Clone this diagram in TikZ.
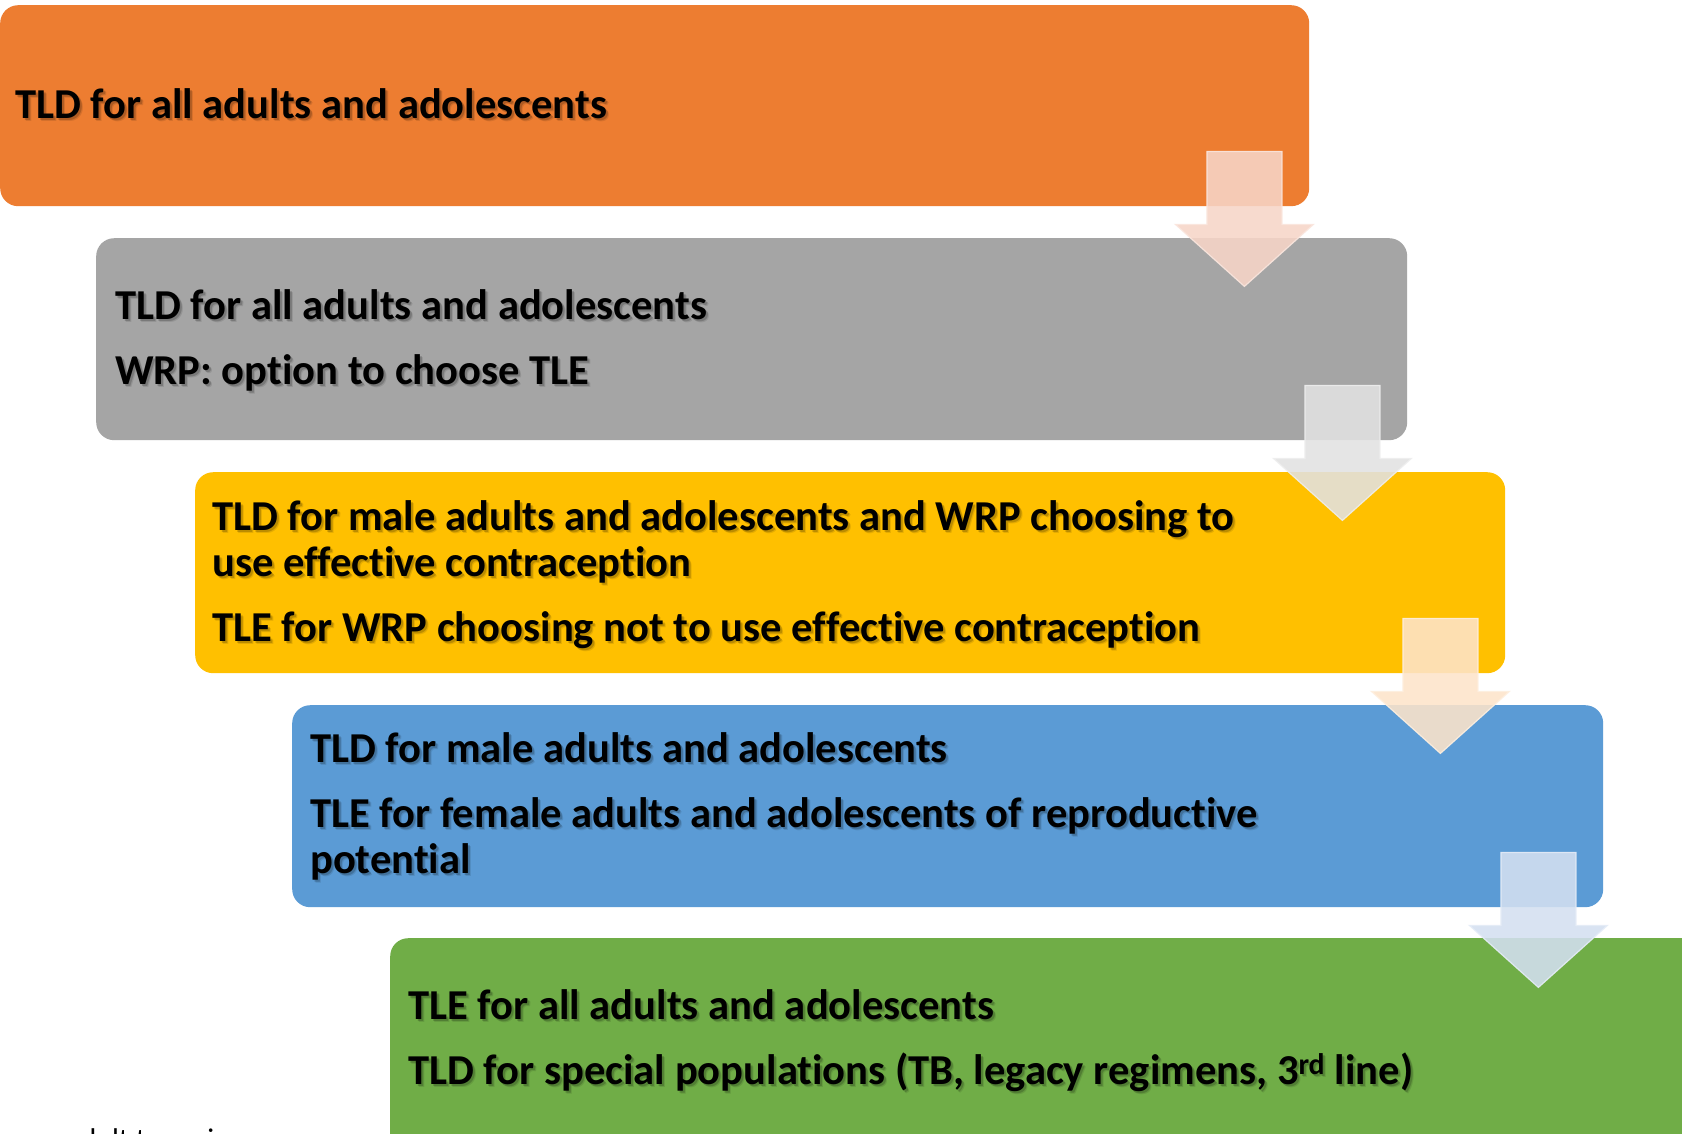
\documentclass[tikz,border=0pt]{standalone}
\usepackage{fontspec}
\setmainfont{Carlito}[Ligatures=NoCommon]
\usetikzlibrary{calc}

% Office-style accent colours
\definecolor{accOrange}{HTML}{ED7D31}
\definecolor{accGray}{HTML}{A5A5A5}
\definecolor{accGold}{HTML}{FFC000}
\definecolor{accBlue}{HTML}{5B9BD5}
\definecolor{accGreen}{HTML}{70AD47}
% pale tints for the down arrows
\definecolor{tintOrange}{HTML}{F7D5C8}
\definecolor{tintGray}{HTML}{E2E2E2}
\definecolor{tintGold}{HTML}{FDE4CA}
\definecolor{tintBlue}{HTML}{D4E0F1}

\tikzset{
  stepbox/.style={fill=#1, draw=none, rounded corners=18pt, inner sep=0pt,
    anchor=north west},
  lbl/.style={anchor=base west, inner sep=0pt, text=black,
    font=\fontsize{42.6}{50}\selectfont\bfseries},
  lblshadow/.style={anchor=base west, inner sep=0pt, text=black, opacity=0.18,
    font=\fontsize{42.6}{50}\selectfont\bfseries},
  downarrow/.style={fill=#1, fill opacity=0.88, draw=#1!60!white,
    draw opacity=0.9, line width=1.2pt, line join=miter},
}

% label with a soft drop shadow
\newcommand{\steplabel}[3]{%
  \node[lblshadow] at ($(#2)+(2,2)$) {#3};
  \node[lblshadow, opacity=0.1] at ($(#2)+(3,3)$) {#3};
  \node[lbl] (#1) at (#2) {#3};
}

% block arrow hanging below the lower right corner of a box
\newcommand{\steparrow}[3]{%
  \coordinate (#1) at ($(#2.south east)+(-65,-55)$);
  \begin{scope}[shift={(#1)}]
    \filldraw[downarrow=#3] (-37.5,0) -- (37.5,0) -- (37.5,73) -- (69,73)
      -- (0,135) -- (-69,73) -- (-37.5,73) -- cycle;
  \end{scope}
}

\begin{document}
\begin{tikzpicture}[x=1pt, y=-1pt]
  \clip (0,0) rectangle (1682,1133);
  \fill[white] (0,0) rectangle (1682,1133);

  % the five stages
  \node[stepbox=accOrange, minimum width=1309pt, minimum height=201pt] (b1) at (0,5) {};
  \node[stepbox=accGray,   minimum width=1311pt, minimum height=202pt] (b2) at (96,238) {};
  \node[stepbox=accGold,   minimum width=1310pt, minimum height=201pt] (b3) at (195,472) {};
  \node[stepbox=accBlue,   minimum width=1311pt, minimum height=202pt] (b4) at (292,705) {};
  \node[stepbox=accGreen,  minimum width=1400pt, minimum height=260pt] (b5) at (390,938) {};

  % arrows between consecutive stages
  \steparrow{a1}{b1}{tintOrange}
  \steparrow{a2}{b2}{tintGray}
  \steparrow{a3}{b3}{tintGold}
  \steparrow{a4}{b4}{tintBlue}

  % stage texts
  \coordinate (p1) at (15,118);
  \steplabel{t1}{p1}{TLD for all adults and adolescents}

  \coordinate (p2a) at (115,319);
  \coordinate (p2b) at (115,384);
  \steplabel{t2a}{p2a}{TLD for all adults and adolescents}
  \steplabel{t2b}{p2b}{WRP: option to choose TLE}

  \coordinate (p3a) at (212,530);
  \coordinate (p3b) at (212,576);
  \coordinate (p3c) at (212,641);
  \steplabel{t3a}{p3a}{TLD for male adults and adolescents and WRP choosing to}
  \steplabel{t3b}{p3b}{use effective contraception}
  \steplabel{t3c}{p3c}{TLE for WRP choosing not to use effective contraception}

  \coordinate (p4a) at (310,762);
  \coordinate (p4b) at (310,827);
  \coordinate (p4c) at (310,873);
  \steplabel{t4a}{p4a}{TLD for male adults and adolescents}
  \steplabel{t4b}{p4b}{TLE for female adults and adolescents of reproductive}
  \steplabel{t4c}{p4c}{potential}

  \coordinate (p5a) at (408,1019);
  \coordinate (p5b) at (408,1084);
  \steplabel{t5a}{p5a}{TLE for all adults and adolescents}
  \steplabel{t5b}{p5b}{TLD for special populations (TB, legacy regimens, 3\textsuperscript{rd} line)}

  % caption running off the lower edge
  \node[anchor=base west, inner sep=0pt, font=\fontsize{30}{36}\selectfont] (cap) at (66,1149) {adult to regimen};
\end{tikzpicture}
\end{document}
